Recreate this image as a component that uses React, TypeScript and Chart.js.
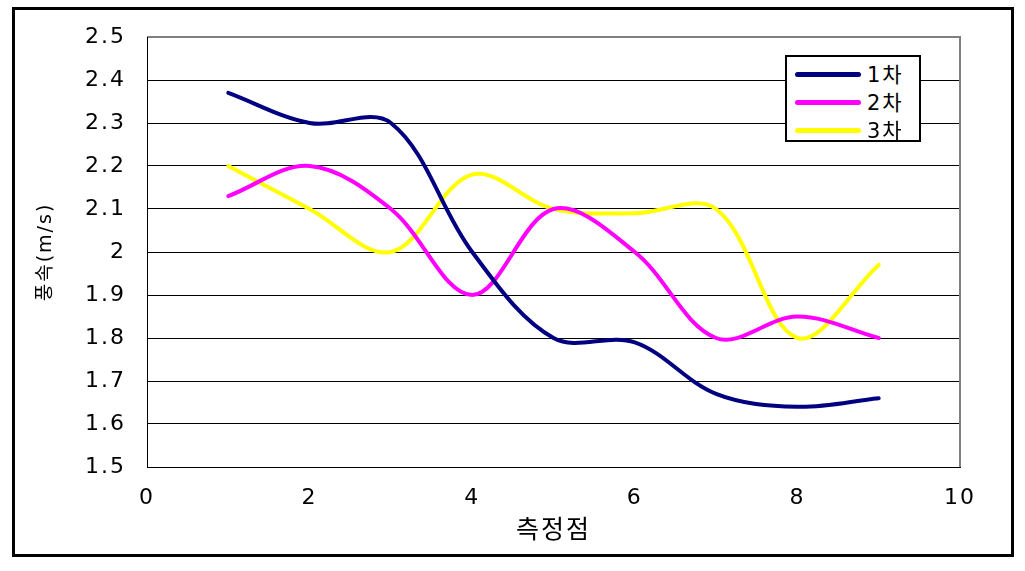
import React, { useEffect, useRef } from 'react';
import { Chart, registerables } from 'chart.js';

Chart.register(...registerables);

// ---- data ----
const xValues = [1, 2, 3, 4, 5, 6, 7, 8, 9];
const series1 = [2.37, 2.3, 2.3, 2.0, 1.8, 1.79, 1.67, 1.64, 1.66];
const series2 = [2.13, 2.2, 2.1, 1.9, 2.1, 2.0, 1.8, 1.85, 1.8];
const series3 = [2.2, 2.1, 2.0, 2.18, 2.1, 2.09, 2.1, 1.8, 1.97];
const seriesLabels = ['1차', '2차', '3차'];
const seriesColors = ['#000080', '#FF00FF', '#FFFF00'];
const xTitle = '측정점';
const yTitle = '풍속(m/s)';
const yMin = 1.5;
const yMax = 2.5;
const yStep = 0.1;
const xMin = 0;
const xMax = 10;
const xStep = 2;

const tickFont = { family: "'DejaVu Sans', 'Noto Sans CJK KR', sans-serif", size: 22 };
const xTitleFont = { family: "'Noto Sans CJK KR', 'DejaVu Sans', sans-serif", size: 25 };
const yTitleFont = { family: "'DejaVu Sans', 'Noto Sans CJK KR', sans-serif", size: 19 };

const letterSpacingPlugin = {
  id: 'letterSpacing',
  beforeDraw(chart: any) {
    (chart.ctx as any).letterSpacing = '2px';
  },
  afterDraw(chart: any) {
    (chart.ctx as any).letterSpacing = '0px';
  },
};

const frameBorderPlugin = {
  id: 'frameBorder',
  beforeDatasetsDraw(chart: any) {
    const { ctx, chartArea } = chart;
    ctx.save();
    ctx.strokeStyle = '#808080';
    ctx.lineWidth = 2;
    ctx.beginPath();
    ctx.moveTo(chartArea.left, chartArea.top);
    ctx.lineTo(chartArea.right, chartArea.top);
    ctx.lineTo(chartArea.right, chartArea.bottom);
    ctx.stroke();
    ctx.strokeStyle = '#000';
    ctx.lineWidth = 1;
    ctx.beginPath();
    ctx.moveTo(chartArea.left + 0.5, chartArea.top);
    ctx.lineTo(chartArea.left + 0.5, chartArea.bottom);
    ctx.stroke();
    ctx.restore();
  },
};

export default function App() {
  const canvasRef = useRef<HTMLCanvasElement | null>(null);

  useEffect(() => {
    const canvas = canvasRef.current;
    if (!canvas) return;
    const allSeries = [series1, series2, series3];
    const chart = new Chart(canvas, {
      type: 'line',
      data: {
        datasets: allSeries.map((s, i) => ({
          label: seriesLabels[i],
          data: xValues.map((x, j) => ({ x, y: s[j] })),
          borderColor: seriesColors[i],
          backgroundColor: seriesColors[i],
          borderWidth: 4,
          pointRadius: 0,
          tension: 0.35,
          fill: false,
          borderCapStyle: 'round',
          borderJoinStyle: 'round',
        })),
      },
      options: {
        responsive: false,
        animation: false,
        devicePixelRatio: 1,
        layout: { padding: { top: 37, right: 65, left: 0, bottom: 0 } },
        plugins: {
          legend: { display: false },
          tooltip: { enabled: false },
        },
        scales: {
          x: {
            type: 'linear',
            min: xMin,
            max: xMax,
            ticks: {
              stepSize: xStep,
              font: tickFont,
              color: '#000',
              padding: 18,
              maxRotation: 0,
            },
            grid: { display: false, drawTicks: false },
            border: { display: true, color: '#000', width: 1 },
            title: {
              display: true,
              text: xTitle,
              font: xTitleFont,
              color: '#000',
              padding: { top: 0, bottom: 28 },
            },
            afterFit(scale: any) {
              scale.height = 104;
            },
          },
          y: {
            type: 'linear',
            min: yMin,
            max: yMax,
            ticks: {
              stepSize: yStep,
              font: tickFont,
              color: '#000',
              padding: 21,
              callback: (v: any) => String(Number(Number(v).toFixed(1))),
            },
            grid: {
              drawTicks: false,
              color: (ctx: any) =>
                ctx.tick && Math.abs(ctx.tick.value - yMax) < 1e-9 ? '#808080' : '#000',
              lineWidth: 1,
            },
            border: { display: true, color: '#000', width: 1 },
            title: {
              display: true,
              text: yTitle,
              font: yTitleFont,
              color: '#000',
              padding: { top: 35, bottom: 0 },
            },
            afterFit(scale: any) {
              scale.width = 147;
            },
          },
        },
      },
      plugins: [letterSpacingPlugin, frameBorderPlugin],
    } as any);
    return () => chart.destroy();
  }, []);

  return (
    <div
      style={{
        position: 'fixed',
        left: 0,
        top: 0,
        width: 1025,
        height: 571,
        background: '#fff',
        overflow: 'hidden',
      }}
    >
      <canvas
        ref={canvasRef}
        width={1025}
        height={571}
        style={{ position: 'absolute', left: 0, top: 0, width: 1025, height: 571 }}
      />
      <div
        style={{
          position: 'absolute',
          left: 12,
          top: 7,
          width: 1002,
          height: 550,
          border: '3px solid #000',
          boxSizing: 'border-box',
          pointerEvents: 'none',
        }}
      />
      <div
        style={{
          position: 'absolute',
          left: 785,
          top: 55,
          width: 136,
          height: 87,
          border: '2px solid #000',
          boxSizing: 'border-box',
          background: '#fff',
        }}
      >
        {seriesLabels.map((label, i) => (
          <div
            key={label}
            style={{
              position: 'absolute',
              left: 0,
              top: 5 + i * 28,
              height: 26,
              width: '100%',
            }}
          >
            <div
              style={{
                position: 'absolute',
                left: 8,
                top: 10,
                width: 66,
                height: 5,
                borderRadius: 3,
                background: seriesColors[i],
              }}
            />
            <span
              style={{
                position: 'absolute',
                left: 80,
                top: 0,
                fontFamily: "'DejaVu Sans', 'Noto Sans CJK KR', sans-serif",
                fontSize: 21,
                letterSpacing: '2px',
                lineHeight: '26px',
                color: '#000',
                whiteSpace: 'nowrap',
              }}
            >
              {label}
            </span>
          </div>
        ))}
      </div>
    </div>
  );
}
